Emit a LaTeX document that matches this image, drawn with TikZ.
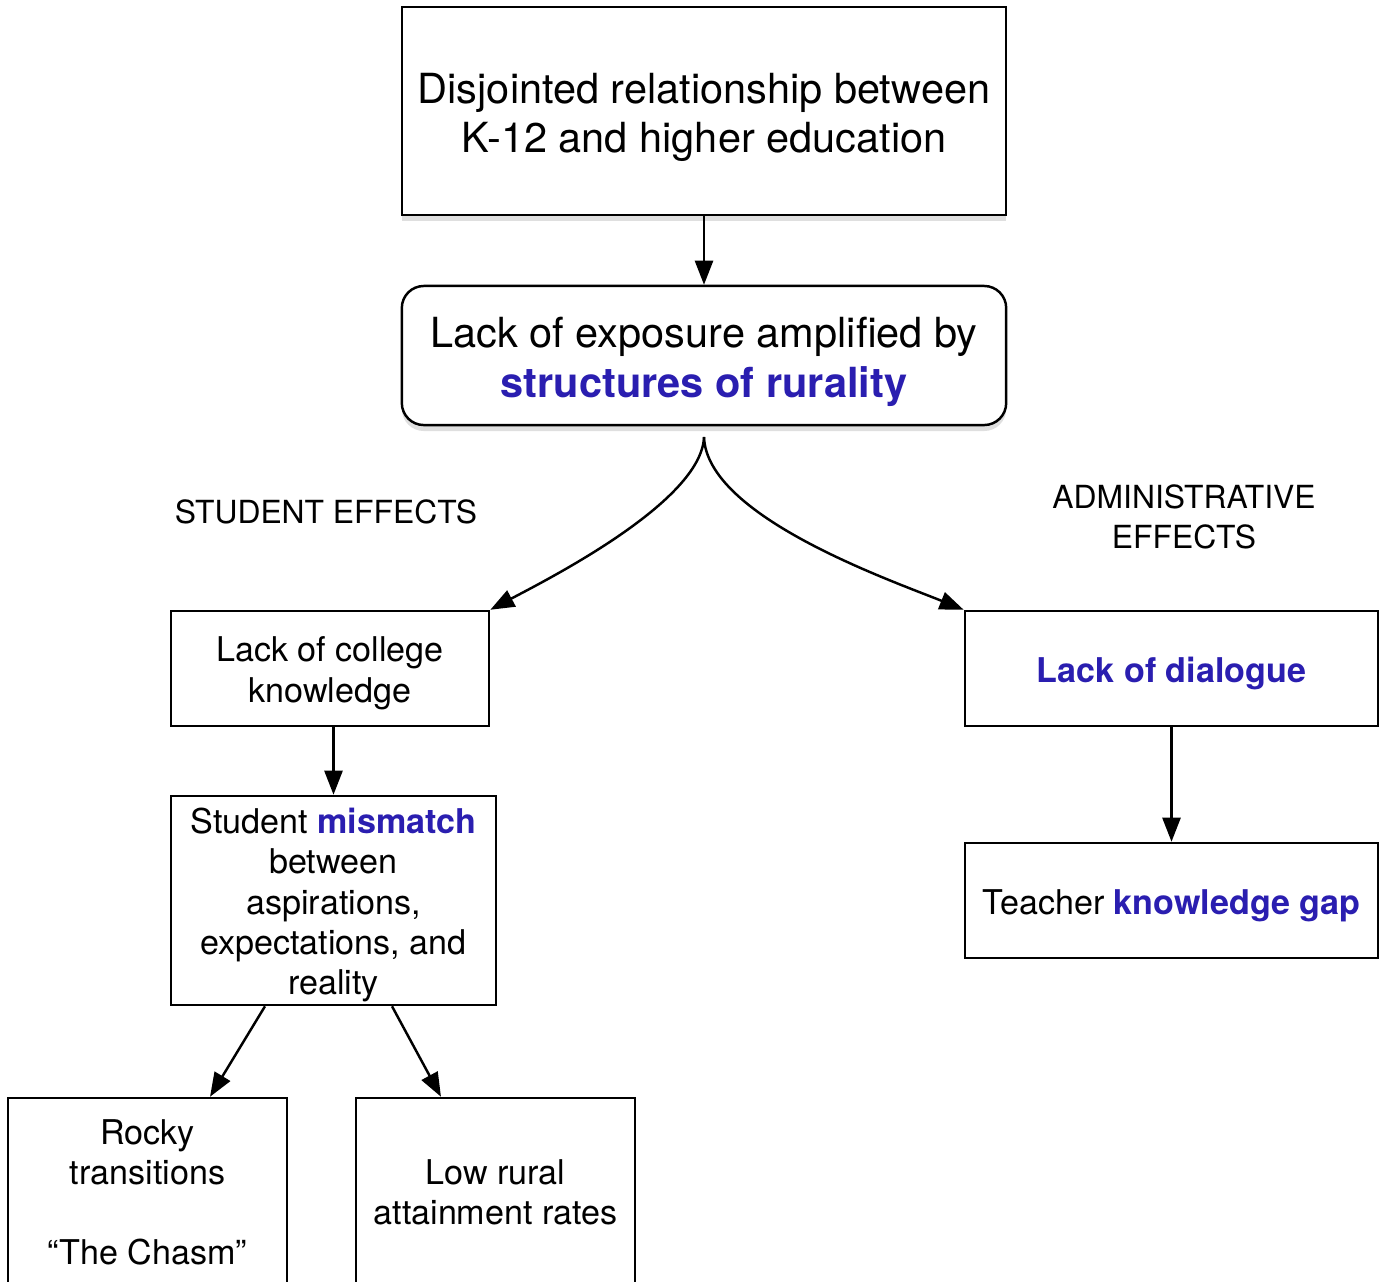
\documentclass[tikz,border=0pt]{standalone}
\usepackage{fontspec}
\setmainfont{TeX Gyre Heros}
\usetikzlibrary{arrows.meta, shadows}

\definecolor{ruralblue}{RGB}{42,30,176}
\newcommand{\hl}[1]{\textcolor{ruralblue}{\bfseries #1}}
\newcommand{\lowerby}[1]{\rule{0pt}{#1}}

\begin{document}
\begin{tikzpicture}[x=0.01cm, y=-0.01cm,
    box/.style={draw, line width=0.7pt, fill=white, align=center, inner sep=0pt,
        font=\fontsize{9.7}{11.4}\selectfont},
    bigbox/.style={box, minimum width=6.04cm, font=\fontsize{11.8}{13.7}\selectfont,
        drop shadow={shadow xshift=0cm, shadow yshift=-0.06cm, opacity=0.25}},
    effect/.style={align=center, font=\fontsize{9.05}{11.4}\selectfont},
    >={Triangle[length=0.24cm, width=0.18cm]}]
    \useasboundingbox (0,0) rectangle (1382,1281);

    \node[bigbox, minimum height=2.08cm] (disjoint) at (704,111) {\lowerby{12.2pt}Disjointed relationship between\\K-12 and higher education};
    \node[bigbox, rounded corners=0.22cm, minimum height=1.39cm,
        font=\fontsize{11.8}{14.2}\selectfont] (exposure) at (704,355.5) {\lowerby{12.2pt}Lack of exposure amplified by\\\hl{structures of rurality}};

    \node[effect] (studentfx) at (326,512) {STUDENT EFFECTS};
    \node[effect] (adminfx) at (1184,517) {ADMINISTRATIVE\\EFFECTS};

    % student side
    \node[box, minimum width=3.18cm, minimum height=1.15cm] (college) at (330,668.5) {\lowerby{9.8pt}Lack of college\\knowledge};
    \node[box, minimum width=3.25cm, minimum height=2.09cm] (mismatch) at (333.5,900.5) {\lowerby{9.8pt}Student \hl{mismatch}\\between\\aspirations,\\expectations, and\\reality};
    \node[box, minimum width=2.79cm, minimum height=1.88cm] (rocky) at (147.5,1192) {Rocky\\transitions\\[11.4pt]“The Chasm”};
    \node[box, minimum width=2.79cm, minimum height=1.88cm] (lowrate) at (495.5,1192) {Low rural\\attainment rates};

    % administrative side
    \node[box, minimum width=4.13cm, minimum height=1.15cm] (dialogue) at (1171.5,668.5) {\lowerby{9.8pt}\hl{Lack of dialogue}};
    \node[box, minimum width=4.13cm, minimum height=1.15cm] (gap) at (1171.5,900.5) {\lowerby{9.8pt}Teacher \hl{knowledge gap}};

    \coordinate (fork) at (704,437);

    \draw[->, line width=0.7pt] (disjoint) -- (exposure);
    \draw[->, line width=0.7pt] (fork) to[out=-92, in=28, looseness=0.6] (college.north east);
    \draw[->, line width=0.7pt] (fork) to[out=-88, in=158, looseness=0.65] (dialogue.north west);
    \draw[->, line width=0.7pt] (mismatch.north |- college.south) -- (mismatch.north);
    \draw[->, line width=0.7pt] ([xshift=-0.685cm]mismatch.south) -- ([xshift=0.625cm]rocky.north);
    \draw[->, line width=0.7pt] ([xshift=0.585cm]mismatch.south) -- ([xshift=-0.545cm]lowrate.north);
    \draw[->, line width=0.7pt] (dialogue) -- (gap);
\end{tikzpicture}
\end{document}
